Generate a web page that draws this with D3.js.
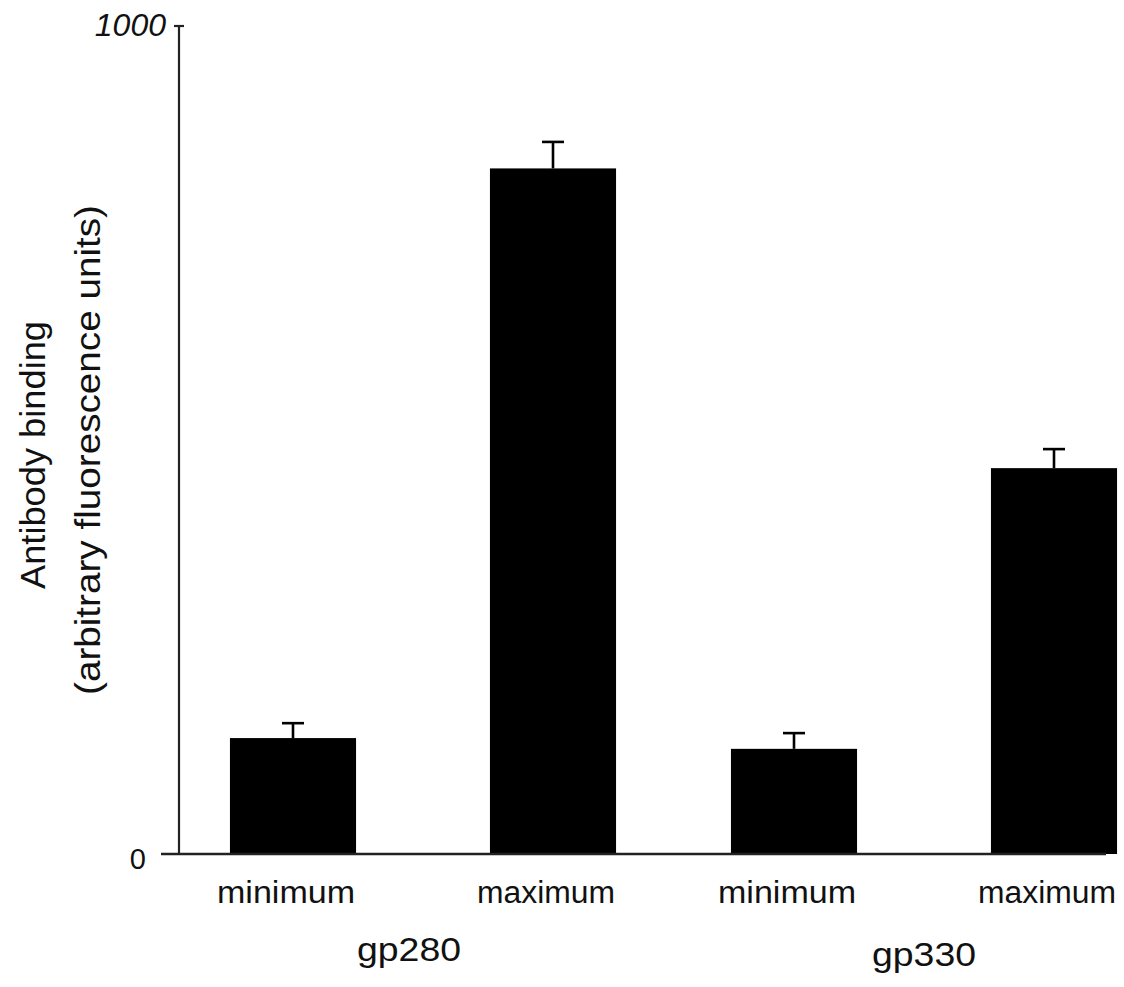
<!DOCTYPE html>
<html>
<head>
<meta charset="utf-8">
<script src="https://cdn.jsdelivr.net/npm/d3@7"></script>
<style>
  html, body { margin: 0; padding: 0; background: #fff; }
  svg { display: block; }
  text { font-family: "Liberation Sans", Arial, Helvetica, sans-serif; fill: #111; }
</style>
</head>
<body>
<svg id="chart" width="1124" height="987"></svg>
<script>
// ---- data ----
const groups = ["gp280", "gp330"];
const conditions = ["minimum", "maximum"];
const gp280Values = [140, 828];
const gp280Errors = [18, 32];
const gp330Values = [127, 466];
const gp330Errors = [19, 23];
const yTicks = [0, 1000];
const yTitle1 = "Antibody binding";
const yTitle2 = "(arbitrary fluorescence units)";

const rows = [];
groups.forEach((g, gi) => {
  const vals = gi === 0 ? gp280Values : gp330Values;
  const errs = gi === 0 ? gp280Errors : gp330Errors;
  conditions.forEach((c, ci) => rows.push({ group: g, cond: c, value: vals[ci], err: errs[ci] }));
});

// ---- layout ----
const svg = d3.select("#chart");
const axisX = 179, baseY = 854, topY = 26;

const y = d3.scaleLinear().domain([0, 1000]).range([baseY, topY]);

const x0 = d3.scaleBand().domain(groups).range([172.5, 1174.5]).padding(0);
const x1 = d3.scaleBand().domain(conditions).range([-9.5, 510.5])
  .paddingInner(0.515).paddingOuter(0.2575);

// bars
svg.append("g").selectAll("rect").data(rows).join("rect")
  .attr("x", d => x0(d.group) + x1(d.cond))
  .attr("y", d => y(d.value))
  .attr("width", x1.bandwidth())
  .attr("height", d => y(0) - y(d.value))
  .attr("fill", "#000");

// error bars
const eb = svg.append("g").attr("stroke", "#000").attr("stroke-width", 2.6);
const cx = d => x0(d.group) + x1(d.cond) + x1.bandwidth() / 2;
eb.selectAll("line.v").data(rows).join("line").attr("class", "v")
  .attr("x1", cx).attr("x2", cx)
  .attr("y1", d => y(d.value)).attr("y2", d => y(d.value + d.err));
eb.selectAll("line.h").data(rows).join("line").attr("class", "h")
  .attr("x1", d => cx(d) - 11).attr("x2", d => cx(d) + 11)
  .attr("y1", d => y(d.value + d.err)).attr("y2", d => y(d.value + d.err));

// y axis
const yAxis = d3.axisLeft(y).tickValues(yTicks).tickFormat(d3.format("d")).tickSize(0).tickPadding(0);
const ya = svg.append("g").attr("transform", `translate(${axisX},0)`).call(yAxis);
ya.attr("font-size", null).attr("font-family", null);
ya.select(".domain").remove();
ya.selectAll("text")
  .style("font-size", d => d === 0 ? "29px" : "32px")
  .style("font-style", d => d === 0 ? "normal" : "italic")
  .attr("x", d => d === 0 ? -33 : -13)
  .attr("dy", d => d === 0 ? "0.5em" : "0.3em")
  .attr("fill", "#111");

// axis lines
svg.append("line").attr("x1", axisX).attr("x2", axisX)
  .attr("y1", y(1000)).attr("y2", y(0))
  .attr("stroke", "#222").attr("stroke-width", 2.2);
svg.append("line").attr("x1", axisX - 5).attr("x2", axisX + 5)
  .attr("y1", y(1000)).attr("y2", y(1000))
  .attr("stroke", "#222").attr("stroke-width", 2.2);
svg.append("line").attr("x1", 161).attr("x2", 1106)
  .attr("y1", y(0)).attr("y2", y(0))
  .attr("stroke", "#222").attr("stroke-width", 2.4);

// x category labels
svg.append("g").selectAll("text").data(rows).join("text")
  .attr("x", d => x0(d.group) + x1(d.cond) + x1.bandwidth() / 2 - 7)
  .attr("y", 903)
  .attr("text-anchor", "middle")
  .style("font-size", "31px")
  .attr("textLength", 138)
  .attr("lengthAdjust", "spacingAndGlyphs")
  .text(d => d.cond);

// group labels
svg.append("g").selectAll("text").data(groups).join("text")
  .attr("x", g => x0(g) + x0.bandwidth() / 2 - (g === "gp280" ? 14 : 0))
  .attr("y", g => g === "gp280" ? 961 : 966)
  .attr("text-anchor", "middle")
  .style("font-size", "33px")
  .attr("textLength", 104)
  .attr("lengthAdjust", "spacingAndGlyphs")
  .text(g => g);

// y titles
svg.append("text")
  .attr("transform", "translate(45,455) rotate(-90)")
  .attr("text-anchor", "middle")
  .style("font-size", "35px")
  .attr("textLength", 268)
  .attr("lengthAdjust", "spacingAndGlyphs")
  .text(yTitle1);
svg.append("text")
  .attr("transform", "translate(100,450) rotate(-90)")
  .attr("text-anchor", "middle")
  .style("font-size", "35px")
  .attr("textLength", 490)
  .attr("lengthAdjust", "spacingAndGlyphs")
  .text(yTitle2);
</script>
</body>
</html>
